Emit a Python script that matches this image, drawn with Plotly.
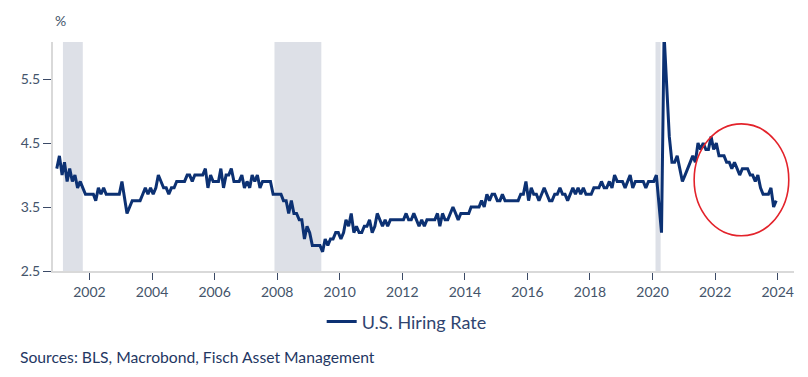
import pandas as pd
import plotly.graph_objects as go

# U.S. JOLTS hires rate, monthly, Dec 2000 - Dec 2023 (%)
v2000 = [4.1]
v2001 = [4.3, 4.0, 4.2, 3.9, 4.1, 3.9, 4.0, 3.8, 3.9, 3.8, 3.7, 3.7]
v2002 = [3.7, 3.7, 3.6, 3.8, 3.7, 3.8, 3.7, 3.7, 3.7, 3.7, 3.7, 3.7]
v2003 = [3.9, 3.6, 3.4, 3.5, 3.6, 3.6, 3.6, 3.6, 3.7, 3.8, 3.7, 3.8]
v2004 = [3.7, 3.8, 4.0, 3.9, 3.8, 3.8, 3.7, 3.8, 3.8, 3.9, 3.9, 3.9]
v2005 = [3.9, 4.0, 4.0, 3.9, 4.0, 4.0, 4.0, 4.0, 4.1, 3.8, 4.0, 3.9]
v2006 = [3.9, 3.9, 4.1, 3.8, 4.0, 4.0, 4.1, 3.9, 3.9, 3.9, 4.0, 3.8]
v2007 = [3.9, 3.8, 4.0, 3.9, 4.0, 3.8, 3.9, 3.9, 3.9, 3.9, 3.7, 3.7]
v2008 = [3.7, 3.7, 3.6, 3.6, 3.4, 3.6, 3.4, 3.4, 3.3, 3.3, 3.0, 3.2]
v2009 = [3.1, 2.9, 2.9, 2.9, 2.9, 2.8, 3.0, 2.9, 3.0, 3.0, 3.1, 3.1]
v2010 = [3.0, 3.1, 3.3, 3.2, 3.4, 3.1, 3.2, 3.1, 3.1, 3.2, 3.2, 3.3]
v2011 = [3.1, 3.2, 3.4, 3.3, 3.2, 3.3, 3.2, 3.3, 3.3, 3.3, 3.3, 3.3]
v2012 = [3.3, 3.4, 3.3, 3.3, 3.4, 3.3, 3.2, 3.3, 3.2, 3.3, 3.3, 3.3]
v2013 = [3.3, 3.4, 3.2, 3.4, 3.3, 3.3, 3.4, 3.5, 3.4, 3.3, 3.4, 3.4]
v2014 = [3.4, 3.4, 3.5, 3.5, 3.5, 3.5, 3.6, 3.5, 3.7, 3.6, 3.7, 3.7]
v2015 = [3.6, 3.6, 3.7, 3.6, 3.6, 3.6, 3.6, 3.6, 3.6, 3.7, 3.7, 3.9]
v2016 = [3.6, 3.8, 3.7, 3.7, 3.6, 3.7, 3.8, 3.7, 3.6, 3.6, 3.7, 3.7]
v2017 = [3.8, 3.7, 3.7, 3.6, 3.7, 3.8, 3.7, 3.8, 3.7, 3.8, 3.7, 3.7]
v2018 = [3.7, 3.8, 3.8, 3.8, 3.9, 3.8, 3.8, 3.9, 3.8, 4.0, 3.9, 3.9]
v2019 = [3.9, 3.8, 3.9, 4.0, 3.8, 3.9, 3.9, 3.9, 3.9, 3.8, 3.9, 3.9]
v2020 = [3.9, 4.0, 3.5, 3.1, 6.2, 5.4, 4.6, 4.2, 4.2, 4.3, 4.1, 3.9]
v2021 = [4.0, 4.1, 4.2, 4.3, 4.2, 4.5, 4.4, 4.5, 4.4, 4.4, 4.6, 4.4]
v2022 = [4.5, 4.3, 4.3, 4.3, 4.2, 4.2, 4.1, 4.2, 4.1, 4.0, 4.1, 4.1]
v2023 = [4.1, 4.0, 4.0, 3.9, 4.0, 3.8, 3.7, 3.7, 3.7, 3.8, 3.5, 3.6]

hiring_rate = (v2000 + v2001 + v2002 + v2003 + v2004 + v2005 + v2006 + v2007 +
               v2008 + v2009 + v2010 + v2011 + v2012 + v2013 + v2014 + v2015 +
               v2016 + v2017 + v2018 + v2019 + v2020 + v2021 + v2022 + v2023)
months = pd.date_range("2000-12-01", "2023-12-01", freq="MS") + pd.Timedelta(days=14)

# Recession periods (shaded)
recession_starts = ["2001-02-25", "2007-12-01", "2020-02-05"]
recession_ends = ["2001-10-15", "2009-05-31", "2020-04-05"]

y_ticks = [2.5, 3.5, 4.5, 5.5]
y_tick_labels = ["2.5", "3.5", "4.5", "5.5"]
series_name = "U.S. Hiring Rate"
source_text = "Sources: BLS, Macrobond, Fisch Asset Management"

NAVY = "#0c3173"
TXT = "#44546a"
FONT = "Lato"

fig = go.Figure()
fig.add_trace(go.Scatter(
    x=months, y=hiring_rate, mode="lines", name=series_name,
    line=dict(color=NAVY, width=3), cliponaxis=True,
))

for s, e in zip(recession_starts, recession_ends):
    fig.add_shape(type="rect", xref="x", yref="paper", x0=s, x1=e, y0=0, y1=1,
                  fillcolor="#dde0e7", line=dict(width=0), layer="below")

# red highlight ellipse around 2021-2024 decline
fig.add_shape(type="circle", xref="x", yref="y",
              x0="2021-05-01", x1="2024-05-10", y0=3.05, y1=4.80,
              line=dict(color="#e3232b", width=1.6))

fig.update_layout(
    width=808, height=377,
    margin=dict(l=45, r=22, t=34, b=114),
    paper_bgcolor="white", plot_bgcolor="white",
    font=dict(family=FONT, color=TXT, size=14),
    showlegend=True,
    legend=dict(orientation="h", x=0.3626, xanchor="left", y=-0.222, yanchor="middle",
                font=dict(size=18, color="#2f4470", family=FONT),
                itemwidth=30, bgcolor="rgba(0,0,0,0)"),
    xaxis=dict(
        type="date", range=["2000-11-01", "2024-07-10"],
        tick0="2002-01-01", dtick="M24", tickformat="%Y",
        showgrid=False, zeroline=False,
        showline=True, linecolor="#d9d9d9", linewidth=2,
        ticks="outside", ticklen=7, tickcolor="#3b4a66", tickwidth=1,
        tickfont=dict(size=14, color=TXT, family=FONT),
    ),
    yaxis=dict(
        range=[2.5, 6.08], tickvals=y_ticks, ticktext=y_tick_labels,
        showgrid=False, zeroline=False,
        showline=True, linecolor="#d9d9d9", linewidth=2,
        ticks="outside", ticklen=8, tickcolor="#3b4a66", tickwidth=1,
        tickfont=dict(size=14, color=TXT, family=FONT),
    ),
    annotations=[
        dict(text="%", xref="paper", yref="paper", x=0.0, y=1.092,
             xanchor="left", yanchor="middle", showarrow=False,
             font=dict(size=14, color=TXT, family=FONT)),
        dict(text=source_text, xref="paper", yref="paper", x=-0.0472, y=-0.376,
             xanchor="left", yanchor="middle", showarrow=False,
             font=dict(size=15.7, color="#1f3763", family=FONT)),
    ],
)

fig.write_html("out.html")
